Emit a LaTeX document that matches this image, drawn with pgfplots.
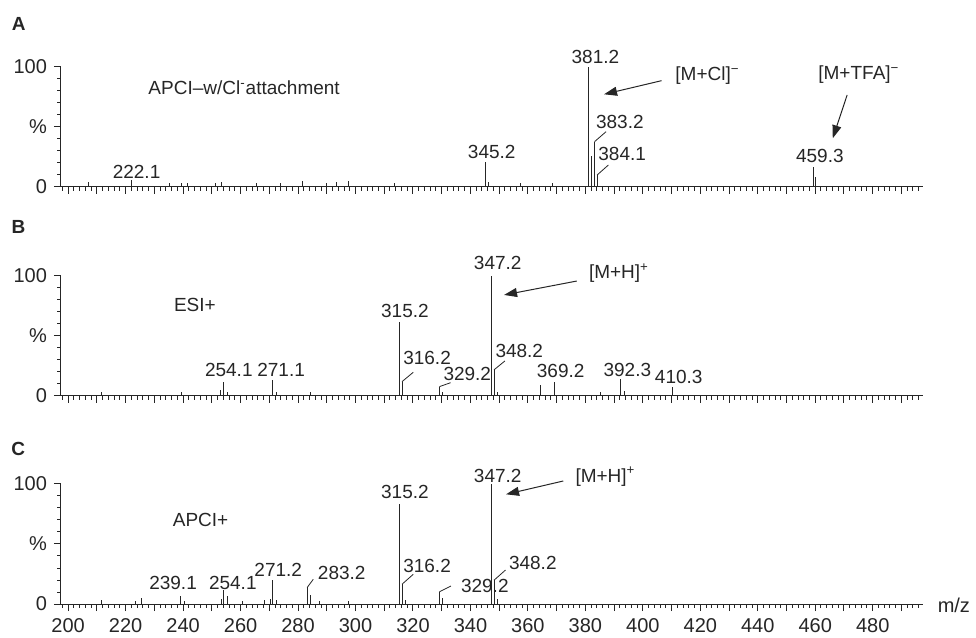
\documentclass[border=0pt]{standalone}
\usepackage{pgfplots}
\pgfplotsset{compat=1.18}
\usepackage{pgfplotstable}
\usepackage{fontspec}
\setmainfont{Liberation Sans}
\usetikzlibrary{arrows.meta}
\newcommand{\lab}{\fontsize{9.5}{11}\selectfont}
\colorlet{ink}{black!85}

\pgfplotstableread{
mz   int
207.1 3.9
222.1 5.8
235.2 3
239.3 3.5
241.4 3
251.2 3.5
253.3 4.4
265.5 3.5
273.8 3.5
281.5 5
290.0 3.5
293.4 3.9
297.5 5
313.4 3
345.2 20.6
346.4 4.4
357.5 3.5
368.5 3.5
381.2 100
382.2 25.8
383.2 37.8
384.1 10
459.3 17
460.2 8.6
}\dataA

\pgfplotstableread{
mz   int
211.6 3
239.5 3.5
253.0 5
254.1 12
255.5 3.5
271.1 13.4
272.4 3
284.4 3
315.2 61.6
316.2 12
329.2 7.8
330.4 3
347.2 100
348.2 21.8
349.5 3.4
364.5 9.2
369.2 12
385.3 3
392.3 14
393.6 4
410.3 7.3
}\dataB

\pgfplotstableread{
mz   int
211.6 3.3
223.5 2.5
225.6 4.7
239.1 6.6
240.4 2.5
253.2 4
254.1 11.6
255.5 6.9
260.7 2.5
268.4 3.3
270.5 4
271.2 19.8
272.4 3.3
283.2 13.8
284.5 7.4
287.4 2.5
297.4 2.5
315.2 83.7
316.2 16.5
317.5 3.3
329.2 10.2
330.4 4.7
347.2 100
348.2 19.8
349.5 3.9
}\dataC

\pgfplotsset{
  spec/.style={
    scale only axis, width=431pt, height=60pt,
    xmin=197.5, xmax=497.5, ymin=0, ymax=100,
    axis x line=bottom, axis y line=left,
    axis line style={-, line width=0.5pt, ink},
    tick align=outside,
    xtick={200,210,...,490}, minor xtick={198,200,...,496},
    ytick={0,50,100}, yticklabels={0,\%,100}, minor ytick={10,20,...,90},
    major tick length=3.5pt, minor tick length=1.8pt,
    every tick/.style={line width=0.5pt, ink},
    tick label style={font=\fontsize{10}{12}\selectfont, text=ink},
    clip=false,
    anchor=south west,
  },
  spk/.style={ycomb, no marks, ink, line width=0.5pt},
}

\begin{document}
\begin{tikzpicture}
\useasboundingbox (0pt,0pt) rectangle (488pt,319pt);

% ---------- Panel A ----------
\begin{axis}[spec, at={(30.5pt,225.5pt)}, xticklabels={}]
\addplot[spk] table[x=mz,y=int] {\dataA};
\node[font=\fontsize{9.5}{11}\selectfont\bfseries, text=ink] at (axis cs:182.8,135.8) {A};
\node[font=\lab, text=ink, anchor=west, inner sep=0pt] at (axis cs:227.8,82.5) {APCI–w/Cl\textsuperscript{-}attachment};
\node[font=\lab, text=ink] at (axis cs:383.5,108.1) {381.2};
\node[font=\lab, text=ink] at (axis cs:392.0,54.4) {383.2};
\draw[ink, line width=0.4pt] (axis cs:383.2,37.8) -- (axis cs:387.2,46.1);
\node[font=\lab, text=ink] at (axis cs:392.8,27.25) {384.1};
\draw[ink, line width=0.4pt] (axis cs:384.1,10) -- (axis cs:388.0,18.3);
\node[font=\lab, text=ink] at (axis cs:347.4,29.4) {345.2};
\node[font=\lab, text=ink] at (axis cs:461.6,26.1) {459.3};
\node[font=\lab, text=ink] at (axis cs:223.8,12.25) {222.1};
\node[font=\lab, text=ink] at (axis cs:422.5,92.5) {[M+Cl]\textsuperscript{−}};
\draw[ink, line width=0.5pt, -{Triangle[length=6.5pt,width=4.5pt]}] (axis cs:406.5,88.6) -- (axis cs:386.5,77.25);
\node[font=\lab, text=ink] at (axis cs:475.2,93.3) {[M+TFA]\textsuperscript{−}};
\draw[ink, line width=0.5pt, -{Triangle[length=6.5pt,width=4.5pt]}] (axis cs:471.1,76.7) -- (axis cs:466.1,40.6);
\end{axis}

% ---------- Panel B ----------
\begin{axis}[spec, at={(30.5pt,121pt)}, xticklabels={}]
\addplot[spk] table[x=mz,y=int] {\dataB};
\node[font=\fontsize{9.5}{11}\selectfont\bfseries, text=ink] at (axis cs:182.7,140.8) {B};
\node[font=\lab, text=ink, anchor=west, inner sep=0pt] at (axis cs:236.7,75.8) {ESI+};
\node[font=\lab, text=ink] at (axis cs:349.5,110.6) {347.2};
\node[font=\lab, text=ink] at (axis cs:391.7,102.3) {[M+H]\textsuperscript{+}};
\draw[ink, line width=0.5pt, -{Triangle[length=6.5pt,width=4.5pt]}] (axis cs:377.0,95.8) -- (axis cs:351.7,84.2);
\node[font=\lab, text=ink] at (axis cs:317.2,71.1) {315.2};
\node[font=\lab, text=ink] at (axis cs:324.9,31.9) {316.2};
\draw[ink, line width=0.4pt] (axis cs:316.2,12) -- (axis cs:320.1,19.75);
\node[font=\lab, text=ink] at (axis cs:338.9,18.1) {329.2};
\draw[ink, line width=0.4pt] (axis cs:329.2,7.8) -- (axis cs:333.1,11.1);
\node[font=\lab, text=ink] at (axis cs:357.0,37.75) {348.2};
\draw[ink, line width=0.4pt] (axis cs:348.2,21.8) -- (axis cs:352.0,29.2);
\node[font=\lab, text=ink] at (axis cs:371.4,20.8) {369.2};
\node[font=\lab, text=ink] at (axis cs:394.6,21.7) {392.3};
\node[font=\lab, text=ink] at (axis cs:412.5,16.1) {410.3};
\node[font=\lab, text=ink] at (axis cs:255.9,21.7) {254.1};
\node[font=\lab, text=ink] at (axis cs:274.1,21.7) {271.1};
\end{axis}

% ---------- Panel C ----------
\begin{axis}[spec, at={(30.5pt,17pt)},
  xticklabels={200,,220,,240,,260,,280,,300,,320,,340,,360,,380,,400,,420,,440,,460,,480,}]
\addplot[spk] table[x=mz,y=int] {\dataC};
\node[font=\fontsize{9.5}{11}\selectfont\bfseries, text=ink] at (axis cs:182.6,129.6) {C};
\node[font=\lab, text=ink, anchor=west, inner sep=0pt] at (axis cs:236.3,70) {APCI+};
\node[font=\lab, text=ink] at (axis cs:236.5,17.75) {239.1};
\node[font=\lab, text=ink] at (axis cs:257.3,17.75) {254.1};
\node[font=\lab, text=ink] at (axis cs:273.1,28.3) {271.2};
\node[font=\lab, text=ink] at (axis cs:295.2,26.1) {283.2};
\draw[ink, line width=0.4pt] (axis cs:283.2,13.8) -- (axis cs:285.3,20.6);
\node[font=\lab, text=ink] at (axis cs:317.2,93.6) {315.2};
\node[font=\lab, text=ink] at (axis cs:349.5,106.9) {347.2};
\node[font=\lab, text=ink] at (axis cs:387.0,106.1) {[M+H]\textsuperscript{+}};
\draw[ink, line width=0.5pt, -{Triangle[length=6.5pt,width=4.5pt]}] (axis cs:372.3,102.5) -- (axis cs:352.4,91.4);
\node[font=\lab, text=ink] at (axis cs:324.9,31.7) {316.2};
\draw[ink, line width=0.4pt] (axis cs:316.2,16.5) -- (axis cs:320.1,24.75);
\node[font=\lab, text=ink] at (axis cs:345.0,15.25) {329.2};
\draw[ink, line width=0.4pt] (axis cs:329.2,10.2) -- (axis cs:333.2,15);
\node[font=\lab, text=ink] at (axis cs:361.7,34.4) {348.2};
\draw[ink, line width=0.4pt] (axis cs:348.2,19.8) -- (axis cs:352.2,28.3);
\node[font=\fontsize{10}{12}\selectfont, text=ink, anchor=west, inner sep=0pt] at (axis cs:502.5,-0.8) {m/z};
\end{axis}
\end{tikzpicture}
\end{document}
